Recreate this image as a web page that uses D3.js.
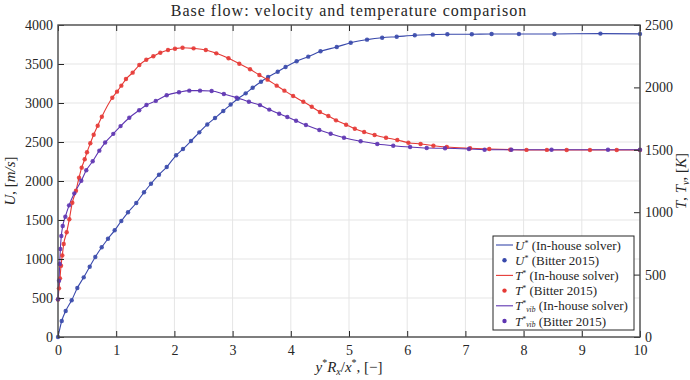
<!DOCTYPE html>
<html>
<head>
<meta charset="utf-8">
<script src="https://cdn.jsdelivr.net/npm/d3@7"></script>
<style>
  body { margin: 0; background: #fff; }
  text { font-family: "Liberation Serif", "Times New Roman", serif; fill: #262626; }
  .grid line { stroke: #e5e5e5; stroke-width: 1; }
</style>
</head>
<body>
<script>
// velocity U* [m/s] (left axis): [y*Rx/x*, value]
const uData = [
  [0,0],[0.064,205],[0.132,333],[0.235,471],[0.332,628],[0.442,765],[0.545,901],[0.641,1026],
  [0.751,1150],[0.859,1260],[0.974,1368],[1.088,1487],[1.203,1599],[1.345,1718],[1.478,1855],
  [1.598,1965],[1.735,2081],[1.868,2179],[2.03,2330],[2.148,2410],[2.285,2513],[2.428,2624],
  [2.565,2725],[2.698,2808],[2.84,2897],[2.967,2980],[3.088,3055],[3.225,3124],[3.345,3196],
  [3.488,3273],[3.61,3333],[3.775,3401],[3.91,3462],[4.1,3535],[4.3,3594],[4.51,3663],
  [4.79,3718],[5.03,3773],[5.31,3812],[5.57,3837],[5.82,3850],[6.13,3868],[6.44,3876],
  [6.69,3881],[7.11,3882],[7.45,3884],[7.92,3884],[8.53,3885],[9.32,3890],[10,3886]
];
// temperature T* [K] (right axis)
const tData = [
  [0,300],[0.017,390],[0.034,470],[0.052,571],[0.074,654],[0.098,745],[0.149,839],[0.194,943],
  [0.246,1076],[0.309,1172],[0.361,1276],[0.407,1357],[0.459,1424],[0.498,1480],[0.555,1552],
  [0.613,1621],[0.682,1693],[0.753,1765],[0.933,1917],[1.014,1966],[1.088,2014],[1.168,2067],
  [1.283,2118],[1.397,2179],[1.517,2222],[1.638,2249],[1.758,2278],[1.89,2300],[2.01,2310],
  [2.14,2318],[2.33,2313],[2.54,2300],[2.72,2273],[2.93,2233],[3.115,2190],[3.3,2145],
  [3.46,2099],[3.6,2062],[3.757,2014],[3.89,1974],[4.04,1931],[4.215,1885],[4.36,1845],
  [4.5,1803],[4.645,1771],[4.777,1736],[4.95,1701],[5.1,1669],[5.26,1643],[5.44,1619],
  [5.636,1597],[5.83,1579],[6.02,1557],[6.23,1547],[6.45,1533],[6.68,1522],[7.08,1512],
  [7.41,1506],[7.77,1501],[8.05,1499],[8.4,1499],[8.74,1498],[9.14,1498],[9.6,1498],[10,1498]
];
// vibrational temperature T*_vib [K] (right axis)
const tvData = [
  [0,302],[0.017,451],[0.029,585],[0.04,705],[0.057,809],[0.081,889],[0.126,964],[0.19,1055],
  [0.28,1151],[0.4,1252],[0.486,1336],[0.596,1408],[0.71,1493],[0.81,1558],[0.95,1628],
  [1.075,1690],[1.225,1757],[1.395,1817],[1.52,1859],[1.68,1892],[1.868,1937],[2.079,1961],
  [2.256,1974],[2.44,1974],[2.64,1971],[2.85,1947],[3.07,1918],[3.28,1885],[3.47,1858],
  [3.63,1822],[3.8,1789],[3.94,1763],[4.09,1733],[4.26,1699],[4.49,1659],[4.685,1629],
  [4.914,1597],[5.2,1568],[5.486,1547],[5.76,1533],[6.05,1522],[6.335,1514],[6.65,1512],
  [7.06,1506],[7.33,1501],[7.79,1500],[8.48,1500],[9.45,1500],[10,1500]
];

const xTicks = [0,1,2,3,4,5,6,7,8,9,10];
const leftTicks = [0,500,1000,1500,2000,2500,3000,3500,4000];
const rightTicks = [0,500,1000,1500,2000,2500];

const outerWidth = 690;
const outerHeight = 380;
const margin = {top:25, left:58, bottom:43, right:50};
const width = outerWidth - margin.left - margin.right;
const height = outerHeight - margin.top - margin.bottom;

const colU = '#3949ab', colT = '#e53935', colTv = '#5e35b1';

const svg = d3.select('body')
  .append('svg')
  .attr('width', outerWidth)
  .attr('height', outerHeight)
  .append('g')
  .attr('transform', `translate(${margin.left}, ${margin.top})`);

let xScale = d3.scaleLinear().domain([0,10]).range([0,width]);
let yLeft = d3.scaleLinear().domain([0,4000]).range([height,0]);
let yRight = d3.scaleLinear().domain([0,2500]).range([height,0]);

// grid
svg.append('g').attr('class','grid')
  .selectAll('line').data(xTicks).enter().append('line')
  .attr('x1', d=>xScale(d)).attr('x2', d=>xScale(d))
  .attr('y1', 0).attr('y2', height);
svg.append('g').attr('class','grid')
  .selectAll('line').data(leftTicks).enter().append('line')
  .attr('x1', 0).attr('x2', width)
  .attr('y1', d=>yLeft(d)).attr('y2', d=>yLeft(d));

// lines + dots
const series = [
  {data: uData, y: yLeft, color: colU},
  {data: tData, y: yRight, color: colT},
  {data: tvData, y: yRight, color: colTv}
];
series.forEach(s => {
  const line = d3.line()
    .x(d=>xScale(d[0]))
    .y(d=>s.y(d[1]))
    .curve(d3.curveMonotoneX);
  svg.append('path')
    .datum(s.data)
    .attr('fill','none')
    .attr('stroke', s.color)
    .attr('stroke-width', 1.1)
    .attr('d', line);
});
series.forEach(s => {
  svg.append('g').selectAll('circle')
    .data(s.data)
    .enter()
    .append('circle')
    .attr('cx', d=>xScale(d[0]))
    .attr('cy', d=>s.y(d[1]))
    .attr('r', 2.2)
    .attr('fill', s.color)
    .attr('opacity', 0.9);
});

// axes
function styleAxis(g) {
  g.select('.domain').remove();
  g.selectAll('.tick line').attr('stroke','#262626');
  g.selectAll('.tick text')
    .attr('font-family','"Liberation Serif", serif')
    .attr('font-size', 14)
    .attr('fill','#262626');
}
svg.append('g')
  .attr('transform', `translate(0, ${height})`)
  .call(d3.axisBottom(xScale).tickValues(xTicks).tickSize(-6).tickPadding(8).tickFormat(d3.format('d')))
  .call(styleAxis);
svg.append('g')
  .call(d3.axisTop(xScale).tickValues(xTicks).tickSize(-6).tickFormat(''))
  .call(styleAxis);
svg.append('g')
  .call(d3.axisLeft(yLeft).tickValues(leftTicks).tickSize(-6).tickPadding(5).tickFormat(d3.format('d')))
  .call(styleAxis);
svg.append('g')
  .attr('transform', `translate(${width}, 0)`)
  .call(d3.axisRight(yRight).tickValues(rightTicks).tickSize(-6).tickPadding(5).tickFormat(d3.format('d')))
  .call(styleAxis);

svg.append('rect')
  .attr('width', width).attr('height', height)
  .attr('fill','none').attr('stroke','#4d4d4d').attr('stroke-width',1.4);

// title and labels
svg.append('text')
  .attr('x', width/2).attr('y', -9)
  .attr('text-anchor','middle').attr('font-size', 16)
  .attr('letter-spacing', 1)
  .text('Base flow: velocity and temperature comparison');

const xl = svg.append('text')
  .attr('x', width/2).attr('y', height + 35)
  .attr('text-anchor','middle').attr('font-size', 15);
xl.append('tspan').attr('font-style','italic').text('y');
xl.append('tspan').attr('font-size',10).attr('dy',-6).text('*');
xl.append('tspan').attr('font-style','italic').attr('dy',6).text('R');
xl.append('tspan').attr('font-style','italic').attr('font-size',10).attr('dy',3).text('x');
xl.append('tspan').attr('dy',-3).text('/');
xl.append('tspan').attr('font-style','italic').text('x');
xl.append('tspan').attr('font-size',10).attr('dy',-6).text('*');
xl.append('tspan').attr('dy',6).text(', [\u2212]');

const yl = svg.append('text')
  .attr('transform', `translate(-43, ${height/2}) rotate(-90)`)
  .attr('text-anchor','middle').attr('font-size', 15);
yl.append('tspan').attr('font-style','italic').text('U');
yl.append('tspan').text(', [');
yl.append('tspan').attr('font-style','italic').text('m/s');
yl.append('tspan').text(']');

const yr = svg.append('text')
  .attr('transform', `translate(${width + 46}, ${height/2}) rotate(-90)`)
  .attr('text-anchor','middle').attr('font-size', 15);
yr.append('tspan').attr('font-style','italic').text('T');
yr.append('tspan').text(', ');
yr.append('tspan').attr('font-style','italic').text('T');
yr.append('tspan').attr('font-style','italic').attr('font-size',10).attr('dy',3).text('v');
yr.append('tspan').attr('dy',-3).text(', [');
yr.append('tspan').attr('font-style','italic').text('K');
yr.append('tspan').text(']');

// legend
const legendItems = [
  {sym:'U', vib:false, src:'(In-house solver)', color: colU, kind:'line'},
  {sym:'U', vib:false, src:'(Bitter 2015)', color: colU, kind:'dot'},
  {sym:'T', vib:false, src:'(In-house solver)', color: colT, kind:'line'},
  {sym:'T', vib:false, src:'(Bitter 2015)', color: colT, kind:'dot'},
  {sym:'T', vib:true, src:'(In-house solver)', color: colTv, kind:'line'},
  {sym:'T', vib:true, src:'(Bitter 2015)', color: colTv, kind:'dot'}
];
const lx = 435, ly = 211;
const legend = svg.append('g').attr('transform', `translate(${lx}, ${ly})`);
legend.append('rect')
  .attr('width', 141).attr('height', 94)
  .attr('fill','#fff').attr('stroke','#262626').attr('stroke-width',1);
legendItems.forEach((d,i) => {
  const cy = 9 + i*15.2;
  if (d.kind === 'line') {
    legend.append('line').attr('x1',3).attr('x2',20).attr('y1',cy).attr('y2',cy)
      .attr('stroke', d.color).attr('stroke-width',1.1);
  } else {
    legend.append('circle').attr('cx',11.5).attr('cy',cy).attr('r',2.2).attr('fill',d.color);
  }
  const t = legend.append('text').attr('x',22).attr('y',cy+4.5).attr('font-size',13);
  t.append('tspan').attr('font-style','italic').text(d.sym);
  t.append('tspan').attr('font-size',8).attr('dy',-4).text('*');
  if (d.vib) {
    t.append('tspan').attr('font-size',7.5).attr('font-style','italic').attr('dy',5.5).text('vib');
    t.append('tspan').attr('dy',-1.5).text(' ' + d.src);
  } else {
    t.append('tspan').attr('dy',4).text(' ' + d.src);
  }
});
</script>
</body>
</html>
